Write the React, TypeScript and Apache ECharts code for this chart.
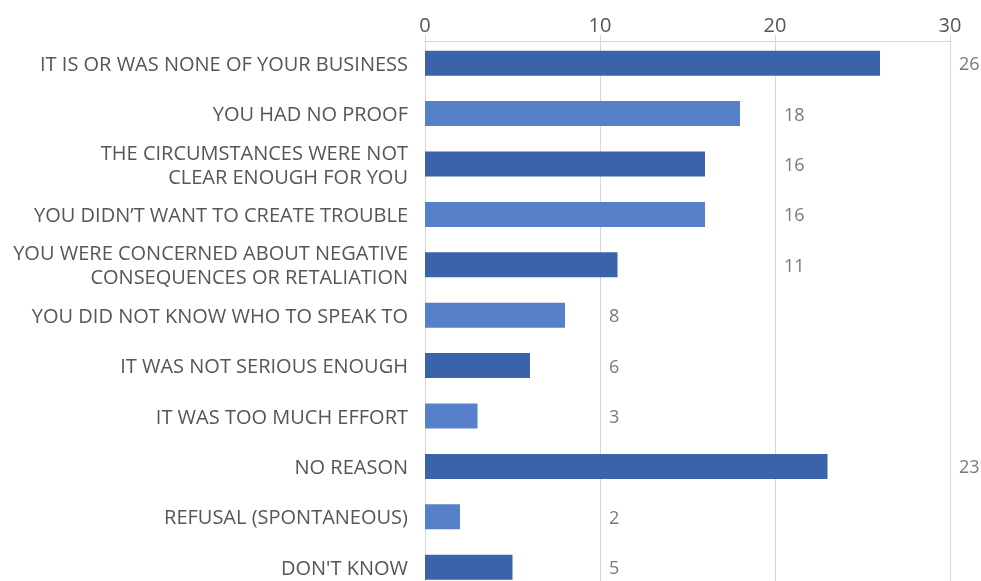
import React, { useEffect, useRef } from "react";
import * as echarts from "echarts";

const categories: string[] = [
  "IT IS OR WAS NONE OF YOUR BUSINESS",
  "YOU HAD NO PROOF",
  "THE CIRCUMSTANCES WERE NOT\nCLEAR ENOUGH FOR YOU",
  "YOU DIDN\u2019T WANT TO CREATE TROUBLE",
  "YOU WERE CONCERNED ABOUT NEGATIVE\nCONSEQUENCES OR RETALIATION",
  "YOU DID NOT KNOW WHO TO SPEAK TO",
  "IT WAS NOT SERIOUS ENOUGH",
  "IT WAS TOO MUCH EFFORT",
  "NO REASON",
  "REFUSAL (SPONTANEOUS)",
  "DON'T KNOW",
];
const values: number[] = [26, 18, 16, 16, 11, 8, 6, 3, 23, 2, 5];
const xTicks = { min: 0, max: 30, interval: 10 };

const DARK = "#3a63a9";
const LIGHT = "#5681c8";
const TEXT = "#595458";
const GRID = "#d9d6d6";

export default function App() {
  const ref = useRef<HTMLDivElement>(null);
  useEffect(() => {
    if (!ref.current) return;
    const chart = echarts.init(ref.current, null, { renderer: "svg" });
    const font = "'Open Sans', 'Noto Sans', sans-serif";
    chart.setOption({
      animation: false,
      grid: { left: 425, right: 31, top: 38, bottom: 7.6, containLabel: false },
      xAxis: {
        type: "value",
        position: "top",
        offset: -3,
        min: xTicks.min,
        max: xTicks.max,
        interval: xTicks.interval,
        axisLine: { show: true, lineStyle: { color: GRID, width: 1 } },
        axisTick: { show: true, length: 6, lineStyle: { color: GRID } },
        splitLine: { show: true, lineStyle: { color: GRID, width: 1 } },
        axisLabel: { color: TEXT, fontSize: 20, fontFamily: font, margin: 7 },
      },
      yAxis: {
        type: "category",
        inverse: true,
        data: categories,
        axisLine: { show: false },
        axisTick: { show: false },
        axisLabel: {
          color: TEXT,
          fontSize: 20,
          fontFamily: font,
          margin: 17,
          lineHeight: 24,
          align: "right",
        },
      },
      series: [
        {
          type: "bar",
          barWidth: 25,
          data: values.map((v, i) => ({
            value: v,
            itemStyle: { color: i % 2 === 0 ? DARK : LIGHT },
          })),
        },
        {
          type: "scatter",
          symbolSize: 0,
          silent: true,
          data: values.map((v, i) => ({
            value: [Math.ceil(v / 10) * 10, i, v],
          })),
          label: {
            show: true,
            position: "right",
            distance: 9,
            color: TEXT,
            fontSize: 18,
            fontFamily: font,
            formatter: (p: any) => String(p.value[2]),
          },
        },
      ],
    });
    return () => chart.dispose();
  }, []);
  return (
    <div
      ref={ref}
      style={{ position: "fixed", left: 0, top: 0, width: 981, height: 600 }}
    />
  );
}
